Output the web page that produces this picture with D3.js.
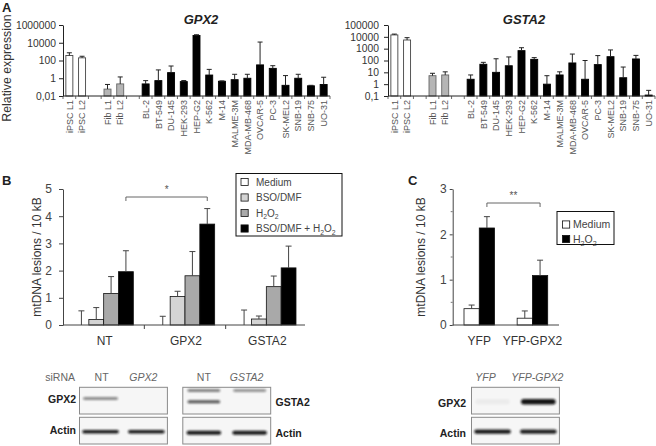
<!DOCTYPE html>
<html><head><meta charset="utf-8">
<script src="https://cdn.jsdelivr.net/npm/d3@7"></script>
<style>
body{margin:0;background:#fff}
svg{display:block;font-family:"Liberation Sans",Arial,sans-serif}
</style></head><body>
<svg id="fig" width="656" height="446"></svg>
<script>
// ---------------- DATA ----------------
// Panel A
const cellLines = ["iPSC L1","iPSC L2","Fib L1","Fib L2","BL-2","BT-549","DU-145","HEK-293","HEP-G2","K-562","M-14","MALME-3M","MDA-MB-468","OVCAR-5","PC-3","SK-MEL2","SNB-19","SNB-75","UO-31"];
const cellGroups = ["iPSC","iPSC","Fib","Fib","tumor","tumor","tumor","tumor","tumor","tumor","tumor","tumor","tumor","tumor","tumor","tumor","tumor","tumor","tumor"];
const gpx2Expr    = [370, 200, 0.06, 0.23, 0.23, 0.54, 4.3, 0.42, 65000, 2.3, 0.46, 0.69, 1.0, 32, 13, 0.16, 1.0, 0.14, 0.2];
const gpx2ErrTop  = [740, 300, 0.2, 1.4, 0.54, 8.7, 24, 0.55, 80000, 10, 0.5, 2.8, 2.8, 12000, 26, 2.0, 2.8, 0.16, 1.3];
const gpx2Ticks   = [0.01, 1, 100, 10000, 1000000];
const gsta2Expr   = [14500, 5400, 5.2, 6.0, 2.6, 48, 10, 36, 680, 125, 1.0, 6.0, 62, 2.6, 45, 210, 3.5, 135, 0.12];
const gsta2ErrTop = [17000, 8500, 8.3, 11, 6, 70, 140, 200, 1200, 175, 5.2, 11, 350, 100, 260, 780, 28, 270, 0.3];
const gsta2Ticks  = [0.1, 1, 10, 100, 1000, 10000, 100000];

// Panel B
const groupsB = ["NT","GPX2","GSTA2"];
const treatmentsB = ["Medium","BSO/DMF","H2O2","BSO/DMF + H2O2"];
const mediumB   = [0, 0, 0];
const mediumBErr= [0.52, 0.32, 0.55];
const bsoB      = [0.2, 1.05, 0.22];
const bsoBErr   = [0.64, 1.24, 0.33];
const h2o2B     = [1.16, 1.81, 1.41];
const h2o2BErr  = [1.78, 2.7, 1.8];
const bothB     = [1.96, 3.71, 2.1];
const bothBErr  = [2.73, 4.28, 2.9];
const ticksB = [0,1,2,3,4,5];

// Panel C
const groupsC = ["YFP","YFP-GPX2"];
const treatmentsC = ["Medium","H2O2"];
const mediumC    = [0.36, 0.15];
const mediumCErr = [0.44, 0.31];
const h2o2C      = [2.14, 1.09];
const h2o2CErr   = [2.39, 1.43];
const ticksC = [0,1,2,3];

// Western blots (band intensities per lane)
const blotB1Lanes = ["NT","GPX2"];
const blotB1GPX2  = [0.55, 0];
const blotB1Actin = [0.95, 0.95];
const blotB2Lanes = ["NT","GSTA2"];
const blotB2GSTA2Upper = [0.6, 0.5];
const blotB2GSTA2Lower = [0.7, 0];
const blotB2Actin = [0.95, 0.95];
const blotCLanes = ["YFP","YFP-GPX2"];
const blotCGPX2  = [0.04, 0.97];
const blotCActin = [0.95, 0.92];

// ---------------- DRAW ----------------
const svg = d3.select("#fig");
svg.append("rect").attr("width",656).attr("height",446).attr("fill","#fff");
const TXT = "#333";

function panelLetter(t,x,y){
  svg.append("text").attr("x",x).attr("y",y).text(t)
    .attr("font-size",13).attr("font-weight","bold").attr("fill","#222");
}
panelLetter("A",2,12); panelLetter("B",2,185); panelLetter("C",408,185);

function h2o2Text(sel, label, fs){
  const parts = label.split("H2O2");
  sel.append("tspan").text(parts[0]);
  if(parts.length>1){
    sel.append("tspan").text("H");
    sel.append("tspan").text("2").attr("font-size",fs*0.68).attr("dy",fs*0.28);
    sel.append("tspan").text("O").attr("dy",-fs*0.28);
    sel.append("tspan").text("2").attr("font-size",fs*0.68).attr("dy",fs*0.28);
  }
}

// ----- Panel A -----
const slots = [];
cellLines.forEach((n,i)=>{ if(i>0 && cellGroups[i]!==cellGroups[i-1]) slots.push("gap"+i); slots.push(n); });
const groupFill = {iPSC:"#fff", Fib:"#b5b5b5", tumor:"#000"};
const groupStroke = {iPSC:"#444", Fib:"#666", tumor:"#000"};

function exprPanel(o){
  const g = svg.append("g");
  const x = d3.scaleBand().domain(slots).range([o.left,o.right]).paddingInner(0.45).paddingOuter(0.225);
  const y = d3.scaleLog().domain(o.domain).range([96,25]);
  const base = o.domain[0];
  g.selectAll("rect.bar").data(cellLines).join("rect")
    .attr("x",d=>x(d)).attr("width",x.bandwidth())
    .attr("y",(d,i)=>y(o.values[i])).attr("height",(d,i)=>y(base)-y(o.values[i]))
    .attr("fill",(d,i)=>groupFill[cellGroups[i]]).attr("stroke",(d,i)=>groupStroke[cellGroups[i]]).attr("stroke-width",0.9);
  const eg = g.selectAll("g.err").data(cellLines).join("g").attr("stroke","#222").attr("stroke-width",1);
  eg.append("line").attr("x1",d=>x(d)+x.bandwidth()/2).attr("x2",d=>x(d)+x.bandwidth()/2)
    .attr("y1",(d,i)=>y(o.values[i])).attr("y2",(d,i)=>y(Math.max(o.errs[i],o.values[i])));
  eg.append("line").attr("x1",d=>x(d)+x.bandwidth()/2-2.5).attr("x2",d=>x(d)+x.bandwidth()/2+2.5)
    .attr("y1",(d,i)=>y(Math.max(o.errs[i],o.values[i]))).attr("y2",(d,i)=>y(Math.max(o.errs[i],o.values[i])));
  const ya = g.append("g").attr("transform",`translate(${o.left},0)`)
    .call(d3.axisLeft(y).tickValues(o.ticks).tickFormat(o.fmt).tickSize(4).tickSizeOuter(0).tickPadding(o.pad));
  ya.select(".domain").attr("stroke","#222");
  ya.selectAll(".tick line").attr("stroke","#222");
  ya.selectAll("text").attr("font-size",10.3).attr("fill",TXT).attr("font-family","Liberation Sans, Arial, sans-serif");
  g.append("line").attr("x1",o.left).attr("x2",o.right).attr("y1",96).attr("y2",96).attr("stroke","#222");
  const step = x.step();
  g.selectAll("line.xt").data(d3.range(slots.length+1)).join("line")
    .attr("x1",i=>o.left+i*step).attr("x2",i=>o.left+i*step).attr("y1",96).attr("y2",99).attr("stroke","#444").attr("stroke-width",0.8);
  g.selectAll("text.xl").data(cellLines).join("text")
    .attr("transform",d=>`translate(${x(d)+x.bandwidth()/2+3.2},100) rotate(-90)`)
    .attr("text-anchor","end").attr("font-size",9).attr("fill","#555").text(d=>d);
  g.append("text").attr("x",o.titleX).attr("y",24).attr("text-anchor","middle")
    .attr("font-size",13).attr("font-weight","bold").attr("font-style","italic").attr("fill","#222").text(o.title);
}
const fmtComma = v => v < 1 ? String(v).replace(".",",") : String(v);
exprPanel({left:63,right:330,domain:[0.01,1e6],ticks:gpx2Ticks,fmt:fmtComma,pad:3,values:gpx2Expr,errs:gpx2ErrTop,title:"GPX2",titleX:201});
exprPanel({left:388,right:655,domain:[0.1,1e5],ticks:gsta2Ticks,fmt:fmtComma,pad:5,values:gsta2Expr,errs:gsta2ErrTop,title:"GSTA2",titleX:524});
svg.append("text").attr("transform","translate(11,68) rotate(-90)").attr("text-anchor","middle")
  .attr("font-size",12.3).attr("fill",TXT).text("Relative expression");

// ----- grouped bar helper -----
function groupedPanel(o){
  const g = svg.append("g");
  const x0 = d3.scaleBand().domain(o.groups).range([o.left,o.right]);
  const x1 = d3.scaleBand().domain(o.treatments).range([o.inPad, x0.bandwidth()-o.inPad]);
  const y = d3.scaleLinear().domain([0,o.yMax]).range([325,189]);
  o.series.forEach((vals,si)=>{
    const t = o.treatments[si];
    g.selectAll(null).data(o.groups).join("rect")
      .attr("x",d=>x0(d)+x1(t)).attr("width",x1.bandwidth())
      .attr("y",(d,i)=>y(vals[i])).attr("height",(d,i)=>y(0)-y(vals[i]))
      .attr("fill",o.colors[si]).attr("stroke","#111").attr("stroke-width",0.8);
    const errs = o.errs[si];
    const cx = d => x0(d)+x1(t)+x1.bandwidth()/2;
    g.selectAll(null).data(o.groups).join("line")
      .attr("x1",cx).attr("x2",cx).attr("y1",(d,i)=>y(vals[i])).attr("y2",(d,i)=>y(errs[i]))
      .attr("stroke","#444").attr("stroke-width",1);
    g.selectAll(null).data(o.groups).join("line")
      .attr("x1",d=>cx(d)-3).attr("x2",d=>cx(d)+3).attr("y1",(d,i)=>y(errs[i])).attr("y2",(d,i)=>y(errs[i]))
      .attr("stroke","#444").attr("stroke-width",1);
  });
  const ya = g.append("g").attr("transform",`translate(${o.left},0)`)
    .call(d3.axisLeft(y).tickValues(o.ticks).tickFormat(d3.format("d")).tickSize(o.tickLen).tickSizeOuter(0).tickPadding(o.tickPad));
  ya.select(".domain").attr("stroke","#444");
  ya.selectAll(".tick line").attr("stroke","#444");
  ya.selectAll("text").attr("font-size",12).attr("fill","#444").attr("font-family","Liberation Sans, Arial, sans-serif");
  if(o.minor){
    g.selectAll(null).data(o.minor).join("line").attr("x1",o.left-2).attr("x2",o.left).attr("y1",d=>y(d)).attr("y2",d=>y(d)).attr("stroke","#777");
  }
  g.append("line").attr("x1",o.left).attr("x2",o.axisEnd).attr("y1",y(0)).attr("y2",y(0)).attr("stroke","#444");
  if(o.xTicks){
    g.selectAll(null).data(o.groups.slice(1)).join("line")
      .attr("x1",d=>x0(d)).attr("x2",d=>x0(d)).attr("y1",y(0)).attr("y2",y(0)+4).attr("stroke","#444");
  }
  g.selectAll(null).data(o.groups).join("text")
    .attr("x",d=>x0(d)+x0.bandwidth()/2+o.labelShift).attr("y",345).attr("text-anchor","middle")
    .attr("font-size",12).attr("fill","#333").text(d=>d);
  g.append("text").attr("transform",`translate(${o.titleX},257) rotate(-90)`).attr("text-anchor","middle")
    .attr("font-size",12).attr("fill","#333").text("mtDNA lesions / 10 kB");
  const b = o.bracket;
  const bx1 = x0(b.from[0])+x1(b.from[1])+x1.bandwidth()/2;
  const bx2 = x0(b.to[0])+x1(b.to[1])+x1.bandwidth()/2;
  g.append("path").attr("d",`M${bx1},${b.y+4}V${b.y}H${bx2}V${b.y+4}`).attr("fill","none").attr("stroke","#555").attr("stroke-width",0.9);
  g.append("text").attr("x",(bx1+bx2)/2).attr("y",b.y-4).attr("text-anchor","middle").attr("font-size",10).attr("fill","#555").text(b.label);
  const L = o.legend;
  g.append("rect").attr("x",L.x).attr("y",L.y).attr("width",L.w).attr("height",L.h).attr("fill","#fff").attr("stroke","#111").attr("stroke-width",1);
  o.treatments.forEach((t,i)=>{
    const ry = L.y + L.first + i*L.gap;
    g.append("rect").attr("x",L.x+L.sq).attr("y",ry-3.6).attr("width",7.2).attr("height",7.2)
      .attr("fill",o.colors[i]).attr("stroke","#111").attr("stroke-width",0.8);
    const tx = g.append("text").attr("x",L.x+L.tx).attr("y",ry+3.6).attr("font-size",L.fs).attr("fill","#444");
    h2o2Text(tx,t,L.fs);
  });
}

groupedPanel({
  left:63,right:307,axisEnd:305,inPad:11,yMax:5,ticks:ticksB,tickLen:4,tickPad:7,
  groups:groupsB,treatments:treatmentsB,
  series:[mediumB,bsoB,h2o2B,bothB],errs:[mediumBErr,bsoBErr,h2o2BErr,bothBErr],
  colors:["#fff","#d4d4d4","#a9a9a9","#000"],xTicks:true,labelShift:1,titleX:41,
  bracket:{from:["NT","BSO/DMF + H2O2"],to:["GPX2","BSO/DMF + H2O2"],y:197,label:"*"},
  legend:{x:236,y:173.5,w:106,h:62.5,first:8.5,gap:15.5,sq:5,tx:20,fs:10}
});
groupedPanel({
  left:452.7,right:559,axisEnd:559,inPad:11.3,yMax:3,ticks:ticksC,tickLen:3,tickPad:3,minor:[0.5,1.5,2.5],
  groups:groupsC,treatments:treatmentsC,
  series:[mediumC,h2o2C],errs:[mediumCErr,h2o2CErr],
  colors:["#fff","#000"],xTicks:false,labelShift:0,titleX:425,
  bracket:{from:["YFP","H2O2"],to:["YFP-GPX2","H2O2"],y:203,label:"**"},
  legend:{x:557,y:211.5,w:57,h:33,first:13,gap:14.5,sq:5.5,tx:16,fs:10.5}
});

// ----- Western blots -----
const defs = svg.append("defs");
defs.append("filter").attr("id","blur").attr("x","-20%").attr("y","-100%").attr("width","140%").attr("height","300%")
  .append("feGaussianBlur").attr("stdDeviation",0.8);
const BLOTFONT = "'Liberation Sans Narrow','Liberation Sans',Arial,sans-serif";

function blotBox(x0,x1,y0,h,lanes,rows){
  const g = svg.append("g");
  g.append("rect").attr("x",x0).attr("y",y0).attr("width",x1-x0).attr("height",h)
    .attr("fill","#f6f6f6").attr("stroke","#8a8a8a").attr("stroke-width",1);
  const xl = d3.scaleBand().domain(lanes).range([x0,x1]).paddingInner(0.2).paddingOuter(0.06);
  rows.forEach(r=>{
    g.selectAll(null).data(lanes).join("rect")
      .attr("x",d=>xl(d)+r.inset).attr("width",xl.bandwidth()-2*r.inset)
      .attr("y",y0+r.pos*h-r.thick/2).attr("height",r.thick).attr("rx",r.thick/2)
      .attr("fill","#111").attr("opacity",(d,i)=>r.vals[i]).attr("filter","url(#blur)");
  });
  return xl;
}
function laneLabels(xl,lanes,shift){
  svg.selectAll(null).data(lanes).join("text")
    .attr("x",(d,i)=>xl(d)+xl.bandwidth()/2+(shift?shift[i]:0)).attr("y",381).attr("text-anchor","middle")
    .attr("font-size",10.5).attr("fill","#666").attr("font-family",BLOTFONT)
    .attr("font-style",d=>d==="NT"?"normal":"italic").text(d=>d);
}
function blotLabel(t,x,y,anchor){
  svg.append("text").attr("x",x).attr("y",y).attr("text-anchor",anchor).attr("font-size",10.5)
    .attr("font-weight","bold").attr("fill","#222").attr("font-family",BLOTFONT).text(t);
}
const topY = 387.3, topH = 26.7, actY = 417.3, actH = 26.7;

let xl = blotBox(79.5,167.4,topY,topH,blotB1Lanes,[{pos:0.42,thick:2.6,inset:1,vals:blotB1GPX2}]);
blotBox(79.5,167.4,actY,actH,blotB1Lanes,[{pos:0.54,thick:3.6,inset:0,vals:blotB1Actin}]);
laneLabels(xl,blotB1Lanes,[1,-3]);
svg.append("text").attr("x",75).attr("y",381).attr("text-anchor","end").attr("font-size",10.5)
  .attr("fill","#666").attr("font-family",BLOTFONT).text("siRNA");
blotLabel("GPX2",76,403,"end"); blotLabel("Actin",76,434,"end");

xl = blotBox(182.8,270.7,topY,topH,blotB2Lanes,[
  {pos:0.12,thick:2.6,inset:2,vals:blotB2GSTA2Upper},
  {pos:0.54,thick:3,inset:2,vals:blotB2GSTA2Lower}]);
blotBox(182.8,270.7,actY,actH,blotB2Lanes,[{pos:0.58,thick:4,inset:1,vals:blotB2Actin}]);
laneLabels(xl,blotB2Lanes,[0,-3]);
blotLabel("GSTA2",275.5,405.5,"start"); blotLabel("Actin",275.5,436.5,"start");

xl = blotBox(471.5,559.4,topY,topH,blotCLanes,[{pos:0.54,thick:5.5,inset:1,vals:blotCGPX2}]);
blotBox(471.5,559.4,actY,actH,blotCLanes,[{pos:0.54,thick:4.2,inset:0,vals:blotCActin}]);
laneLabels(xl,blotCLanes,[-7,-1]);
blotLabel("GPX2",466,407,"end"); blotLabel("Actin",466,436.5,"end");
</script></body></html>
